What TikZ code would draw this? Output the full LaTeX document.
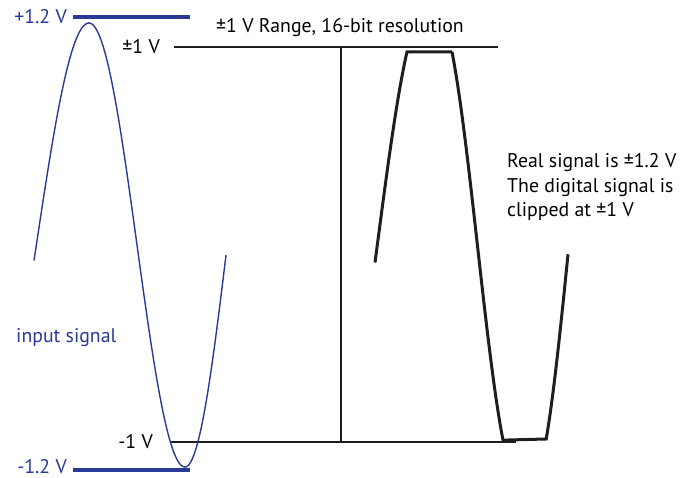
\documentclass[tikz,border=0pt]{standalone}
\usepackage{fontspec}
\setmainfont{PT Sans}
\definecolor{sigblue}{RGB}{40,58,150}
\definecolor{inkblack}{RGB}{30,30,30}
\begin{document}
\begin{tikzpicture}[x=1pt,y=-1pt,
  lbl/.style={font=\fontsize{19.8}{22}\selectfont, inner sep=0pt},
  bluelbl/.style={lbl, text=sigblue},
  bluebar/.style={draw=sigblue, line width=3.5pt},
  level/.style={draw=inkblack, line width=2pt},
  bluewave/.style={draw=sigblue, line width=1.4pt},
  clipwave/.style={draw=inkblack, line width=3pt, line join=miter}]
\useasboundingbox (0,0) rectangle (687,478);
% labels
\node[bluelbl, anchor=east] (p12) at (67,17) {+1.2 V};
\node[bluelbl, anchor=east] (m12) at (67,467) {-1.2 V};
\node[lbl, anchor=east] (p1) at (160,47) {±1 V};
\node[lbl, anchor=east] (m1) at (153,442) {-1 V};
\node[lbl] (title) at (340,28) {±1 V Range, 16-bit resolution};
\node[bluelbl, anchor=west] (inp) at (16,338) {input signal};
\node[lbl, anchor=west, align=left, font=\fontsize{19.8}{24.5}\selectfont] (note) at (507,187)
  {Real signal is ±1.2 V\\The digital signal is\\clipped at ±1 V};
% level lines
\coordinate (pb1) at (73,17); \coordinate (pb2) at (190,17);
\coordinate (mb1) at (73,470); \coordinate (mb2) at (190,470);
\draw[bluebar] (pb1) -- (pb2);
\draw[bluebar] (mb1) -- (mb2);
\coordinate (l1a) at (174,47); \coordinate (l1b) at (498,47);
\coordinate (l2a) at (170,442); \coordinate (l2b) at (516,442);
\coordinate (va) at (341,47); \coordinate (vb) at (341,442);
\draw[level] (l1a) -- (l1b);
\draw[level] (l2a) -- (l2b);
\draw[level] (va) -- (vb);
% blue input sine (piecewise phase mapping)
\draw[bluewave, smooth, samples=40]
  plot[domain=-4:90] ({34+(\x+4)/94*55},{245-222*sin(\x)})
  -- plot[domain=90:180] ({89+(\x-90)/90*48},{245-222*sin(\x)})
  -- plot[domain=180:270] ({137+(\x-180)/90*48},{245-222*sin(\x)})
  -- plot[domain=270:357.4] ({185+(\x-270)/87.4*41},{245-222*sin(\x)});
% clipped digital signal
\draw[clipwave, samples=30]
  plot[domain=-4:55] ({375+(\x+4)/59*32},{246-237*sin(\x)})
  -- (452,52)
  -- plot[domain=125:235] ({452+(\x-125)/110*51},{246-237*sin(\x)})
  -- (546,439)
  -- plot[domain=305:358] ({546+(\x-305)/53*22},{246-237*sin(\x)});
\end{tikzpicture}
\end{document}
